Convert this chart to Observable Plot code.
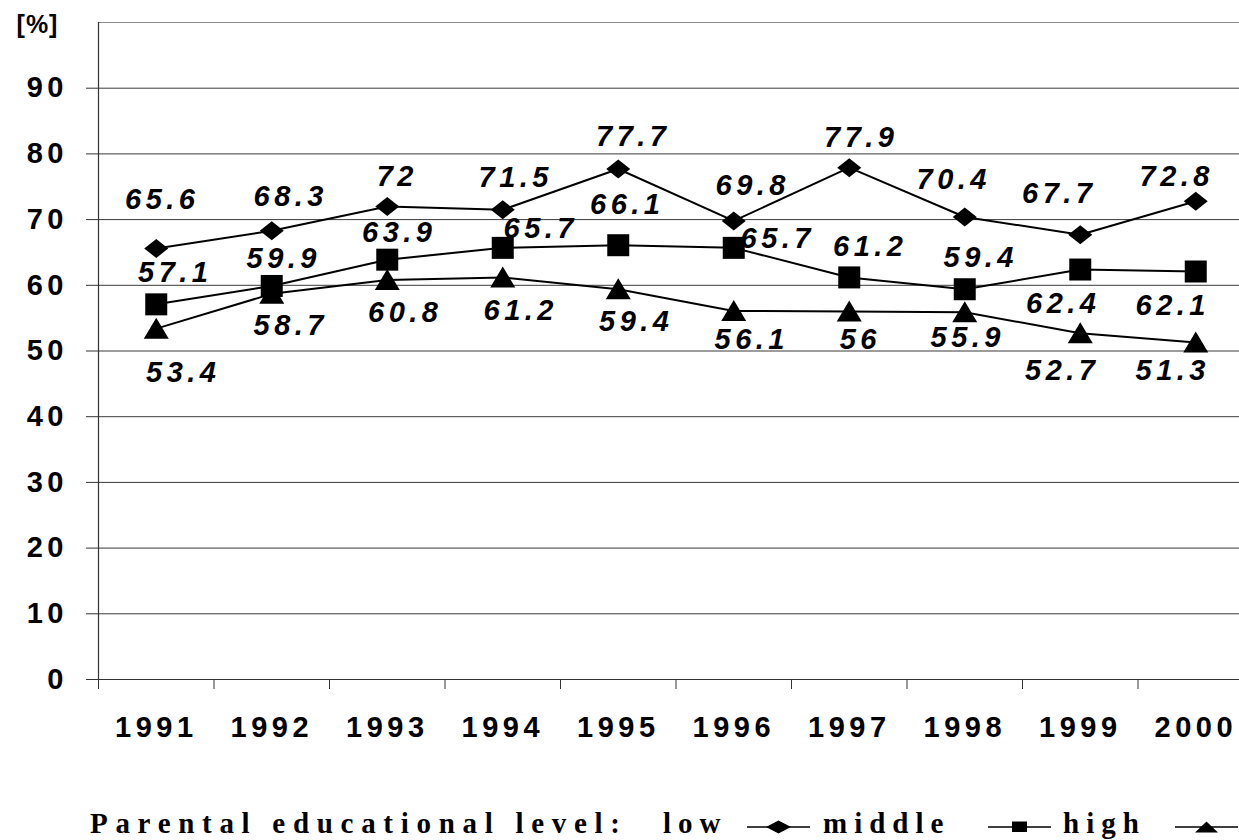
<!DOCTYPE html>
<html>
<head>
<meta charset="utf-8">
<script src="https://cdn.jsdelivr.net/npm/d3@7"></script>
<script src="https://cdn.jsdelivr.net/npm/@observablehq/plot@0.6"></script>
<style>
  html, body { margin: 0; padding: 0; background: #fff; overflow: hidden; width: 1239px; height: 840px; }
  #chart { width: 1239px; height: 770px; overflow: hidden; }
  #chart svg { max-width: none !important; width: 1254px; height: 770px; }
  #chart svg text { font-weight: bold; letter-spacing: 4.5px; }
  #legend { position: relative; width: 1239px; height: 70px; font-family: "Liberation Serif", "Times New Roman", serif; font-weight: bold; font-size: 29px; color: #000; }
  #legend span { position: absolute; top: 39px; line-height: 29px; white-space: pre; letter-spacing: 7px; }
  #legend span.title { letter-spacing: 7.7px; }
  #legend svg { position: absolute; top: 47px; }
</style>
</head>
<body>
<div id="chart"></div>
<div id="legend"></div>
<script>
// ---- data ----
const years = [1991, 1992, 1993, 1994, 1995, 1996, 1997, 1998, 1999, 2000];
const low    = [65.6, 68.3, 72, 71.5, 77.7, 69.8, 77.9, 70.4, 67.7, 72.8];
const middle = [57.1, 59.9, 63.9, 65.7, 66.1, 65.7, 61.2, 59.4, 62.4, 62.1];
const high   = [53.4, 58.7, 60.8, 61.2, 59.4, 56.1, 56, 55.9, 52.7, 51.3];
const yTicks = [0, 10, 20, 30, 40, 50, 60, 70, 80, 90, 100];
const yUnit = "[%]";
const legendTitle = "Parental educational level:";
const seriesNames = ["low", "middle", "high"];

// ---- label placement offsets (px) ----
const lowLabelDx  = [6, 19, 10, 13, 15, 19, 12, -11, -21, -19];
const lowLabelDy  = [-49, -34, -30, -32, -32, -35, -30, -37, -41, -24];
const midLabelDx  = [19, 12, 12, 38, 9, 44, 21, 16, -17, -23];
const midLabelDy  = [-32, -27, -27, -19, -41, -9, -31, -32, 34, 34];
const highLabelDx = [27, 19, 18, 18, 18, 18, 11, 3, -18, -23];
const highLabelDy = [44, 32, 33, 33, 32, 29, 28, 25, 37, 28];

// ---- symbols ----
const diamondSym = { draw(c) { c.moveTo(0, -9.5); c.lineTo(12, 0); c.lineTo(0, 9.5); c.lineTo(-12, 0); c.closePath(); } };
const squareSym = { draw(c) { c.moveTo(-11, -11); c.lineTo(11, -11); c.lineTo(11, 11); c.lineTo(-11, 11); c.closePath(); } };
const triangleSym = { draw(c) { c.moveTo(0, -11); c.lineTo(12.5, 10); c.lineTo(-12.5, 10); c.closePath(); } };

const series = [
  { name: seriesNames[0], values: low, dx: lowLabelDx, dy: lowLabelDy, symbol: diamondSym },
  { name: seriesNames[1], values: middle, dx: midLabelDx, dy: midLabelDy, symbol: squareSym },
  { name: seriesNames[2], values: high, dx: highLabelDx, dy: highLabelDy, symbol: triangleSym }
];

const boundaries = [...years.map(y => y - 0.5), years[years.length - 1] + 0.5];
const fontFamily = '"Liberation Sans", Arial, Helvetica, sans-serif';

const marks = [];
// grid
marks.push(Plot.ruleY(yTicks.filter(d => d > 0 && d < 100), { y: d => d, stroke: "#3a3a3a", strokeWidth: 1 }));
marks.push(Plot.ruleY([yTicks[yTicks.length - 1]], { y: d => d, stroke: "#8a8a8a", strokeWidth: 1 }));
marks.push(Plot.ruleY([0], { y: d => d, stroke: "#333", strokeWidth: 1.2 }));
marks.push(Plot.ruleX([boundaries[0]], { x: d => d, y1: 0, y2: 100, stroke: "#333", strokeWidth: 1.2 }));
// axes
marks.push(Plot.axisY({ ticks: yTicks.filter(d => d < 100), tickSize: 12, tickPadding: 18.5, label: null, fontSize: 29, fontWeight: "bold", stroke: "#333" }));
marks.push(Plot.axisX({ ticks: boundaries, tickSize: 10, tickFormat: () => "", label: null, stroke: "#333" }));
marks.push(Plot.axisX({ ticks: years, tickSize: 0, tickPadding: 37, tickFormat: d => String(d), label: null, fontSize: 29, fontWeight: "bold" }));
marks.push(Plot.text([{ u: yUnit, v: yTicks[yTicks.length - 1] }], { x: () => boundaries[0], y: "v", text: "u", dx: -61, dy: 2, fontSize: 25, fontWeight: "bold", fill: "#000" }));

// lines & dots
for (const s of series) {
  const rows = years.map((yr, i) => ({ year: yr, value: s.values[i] }));
  marks.push(Plot.line(rows, { x: "year", y: "value", stroke: "#000", strokeWidth: 2 }));
}
for (const s of series) {
  const rows = years.map((yr, i) => ({ year: yr, value: s.values[i] }));
  marks.push(Plot.dot(rows, { x: "year", y: "value", symbol: () => s.symbol, fill: "#000", stroke: "none", r: 10 }));
}
// value labels
for (const s of series) {
  years.forEach((yr, i) => {
    marks.push(Plot.text([{ year: yr, value: s.values[i] }], {
      x: "year", y: "value", text: d => String(d.value),
      dx: s.dx[i], dy: s.dy[i],
      fontSize: 29, fontWeight: "bold", fontStyle: "italic", fill: "#000"
    }));
  });
}

const chart = Plot.plot({
  width: 1254,
  height: 770,
  marginLeft: 98,
  marginRight: 1,
  marginTop: 22,
  marginBottom: 91,
  x: { type: "linear", domain: [boundaries[0], boundaries[boundaries.length - 1]] },
  y: { type: "linear", domain: [0, 100] },
  style: { fontFamily, color: "#000", background: "#fff", overflow: "visible", maxWidth: "none" },
  marks
});
document.getElementById("chart").appendChild(chart);
d3.select(chart).selectAll("text").filter(function () { return this.textContent === yUnit; }).style("letter-spacing", "1px");

// ---- legend ----
const legend = document.getElementById("legend");
function addSpan(text, left, cls) {
  const s = document.createElement("span");
  s.textContent = text;
  s.style.left = left + "px";
  if (cls) s.className = cls;
  legend.appendChild(s);
}
function addMarker(kind, left) {
  const ns = "http://www.w3.org/2000/svg";
  const svg = document.createElementNS(ns, "svg");
  svg.setAttribute("width", 63);
  svg.setAttribute("height", 20);
  svg.style.left = left + "px";
  const line = document.createElementNS(ns, "line");
  line.setAttribute("x1", 0); line.setAttribute("x2", 63);
  line.setAttribute("y1", 10); line.setAttribute("y2", 10);
  line.setAttribute("stroke", "#000"); line.setAttribute("stroke-width", 1.3);
  svg.appendChild(line);
  const p = document.createElementNS(ns, "path");
  let d;
  if (kind === "low") d = "M19,10 L31.5,3.5 L44,10 L31.5,16.5 Z";
  else if (kind === "middle") d = "M24,4.5 L39,4.5 L39,15 L24,15 Z";
  else d = "M20,15.5 L31.5,4.5 L43,15.5 Z";
  p.setAttribute("d", d);
  p.setAttribute("fill", "#000");
  svg.appendChild(p);
  legend.appendChild(svg);
}
addSpan(legendTitle, 90, "title");
addSpan(seriesNames[0], 663);
addMarker("low", 747);
addSpan(seriesNames[1], 823);
addMarker("middle", 988);
addSpan(seriesNames[2], 1063);
addMarker("high", 1175);
</script>
</body>
</html>
